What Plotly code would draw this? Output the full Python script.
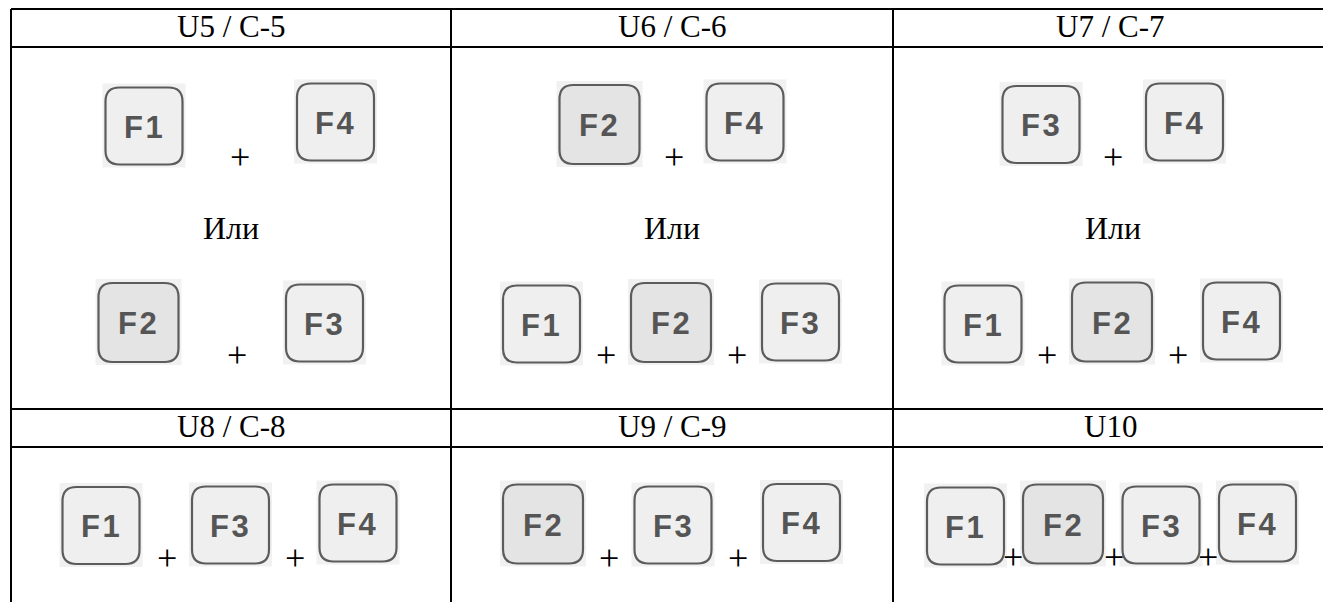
import plotly.graph_objects as go

# ---------------- data ----------------
headers = ["U5 / C-5", "U6 / C-6", "U7 / C-7", "U8 / C-8", "U9 / C-9", "U10"]
combo_main = [["F1", "F4"], ["F2", "F4"], ["F3", "F4"],
              ["F1", "F3", "F4"], ["F2", "F3", "F4"], ["F1", "F2", "F3", "F4"]]
combo_alt = [["F2", "F3"], ["F1", "F2", "F3"], ["F1", "F2", "F4"], None, None, None]
or_label = "Или"

# ---------------- layout constants ----------------
W, H = 1323, 602
col_lines = [11, 451, 893]
row_lines = [9, 47, 409, 447]
header_y = [26, 426]
or_xy = [(231, 228), (671.5, 228), (1113, 228)]

main_pos = [
    ([144, 335.5], [126, 122], [(240, 157)]),
    ([599.5, 745], [124.5, 122], [(674, 157)]),
    ([1041, 1184.5], [124.5, 122], [(1113, 157)]),
    ([101, 230.5, 358], [525.5, 525, 523], [(167, 558), (295, 558)]),
    ([543, 673, 801.5], [524, 525, 522.5], [(609, 558), (738, 558)]),
    ([965.5, 1063, 1161, 1257.5], [526, 524, 525, 523], [(1013, 557), (1114, 557), (1208, 557)]),
]
alt_pos = [
    ([138.5, 324.5], [322.5, 323], [(237, 355)]),
    ([541.5, 671, 800.5], [324, 322.5, 322], [(606, 355), (737, 355)]),
    ([983, 1112, 1241.5], [324, 322, 321], [(1047, 355), (1178, 355)]),
    None, None, None,
]

fig = go.Figure()
shapes = []
annotations = []

LINE = dict(color="black", width=2)
# table grid
for y in row_lines:
    shapes.append(dict(type="line", x0=col_lines[0], x1=W + 5, y0=y, y1=y, line=LINE, layer="above"))
shapes.append(dict(type="line", x0=col_lines[0], x1=col_lines[0], y0=row_lines[0], y1=H + 5, line=LINE, layer="above"))
for x in col_lines[1:]:
    shapes.append(dict(type="line", x0=x, x1=x, y0=row_lines[0], y1=H + 5, line=LINE, layer="above"))


def rounded(x0, y0, x1, y1, r):
    return (f"M {x0 + r},{y0} L {x1 - r},{y0} Q {x1},{y0} {x1},{y0 + r} "
            f"L {x1},{y1 - r} Q {x1},{y1} {x1 - r},{y1} L {x0 + r},{y1} "
            f"Q {x0},{y1} {x0},{y1 - r} L {x0},{y0 + r} Q {x0},{y0} {x0 + r},{y0} Z")


def add_key(label, cx, cy):
    w = 80 if label == "F2" else 77
    h = 79 if label == "F2" else 77
    fill = "#e4e4e4" if label == "F2" else "#efefef"
    x0, x1 = cx - w / 2, cx + w / 2
    y0, y1 = cy - h / 2, cy + h / 2
    # scanned background square
    shapes.append(dict(type="rect", x0=x0 - 3, x1=x1 + 3, y0=y0 - 4, y1=y1 + 3,
                       fillcolor="#f1f1f1", line=dict(width=0), layer="below"))
    shapes.append(dict(type="path", path=rounded(x0, y0, x1, y1, 14),
                       fillcolor=fill, line=dict(color="#5c5c5c", width=2.2), layer="below"))
    annotations.append(dict(x=cx - 1, y=cy + 1, text=f"<b>{label[0]}\u200a{label[1:]}</b>",
                            showarrow=False, xanchor="center", yanchor="middle",
                            font=dict(family="Liberation Sans, Arial", size=31, color="#555555")))


def add_plus(px, py):
    annotations.append(dict(x=px, y=py, text="+", showarrow=False, xanchor="center", yanchor="middle",
                            font=dict(family="Liberation Serif, Times New Roman", size=36, color="black")))


def add_combo(keys, pos):
    xs, ys, plus = pos
    for k, cx, cy in zip(keys, xs, ys):
        add_key(k, cx, cy)
    for px, py in plus:
        add_plus(px, py)


cell_cx = [(col_lines[0] + col_lines[1]) / 2, (col_lines[1] + col_lines[2]) / 2, (col_lines[2] + W) / 2 + 2]

for i, title in enumerate(headers):
    row, col = divmod(i, 3)
    annotations.append(dict(x=cell_cx[col], y=header_y[row], text=title, showarrow=False,
                            xanchor="center", yanchor="middle",
                            font=dict(family="Liberation Serif, Times New Roman", size=31, color="black")))
    add_combo(combo_main[i], main_pos[i])
    if combo_alt[i] is not None:
        ox, oy = or_xy[col]
        annotations.append(dict(x=ox, y=oy, text=or_label, showarrow=False,
                                xanchor="center", yanchor="middle",
                                font=dict(family="Liberation Serif, Times New Roman", size=32, color="black")))
        add_combo(combo_alt[i], alt_pos[i])

fig.add_trace(go.Scatter(x=[0, W], y=[0, H], mode="markers", marker=dict(opacity=0),
                         hoverinfo="skip", showlegend=False))

fig.update_layout(
    width=W, height=H, margin=dict(l=0, r=0, t=0, b=0),
    paper_bgcolor="white", plot_bgcolor="white",
    xaxis=dict(range=[0, W], visible=False, fixedrange=True),
    yaxis=dict(range=[H, 0], visible=False, fixedrange=True),
    shapes=shapes, annotations=annotations, showlegend=False,
)

fig.write_html("out.html", config={"displayModeBar": False},
               post_script="document.body.style.margin='0';document.body.style.overflow='hidden';")
